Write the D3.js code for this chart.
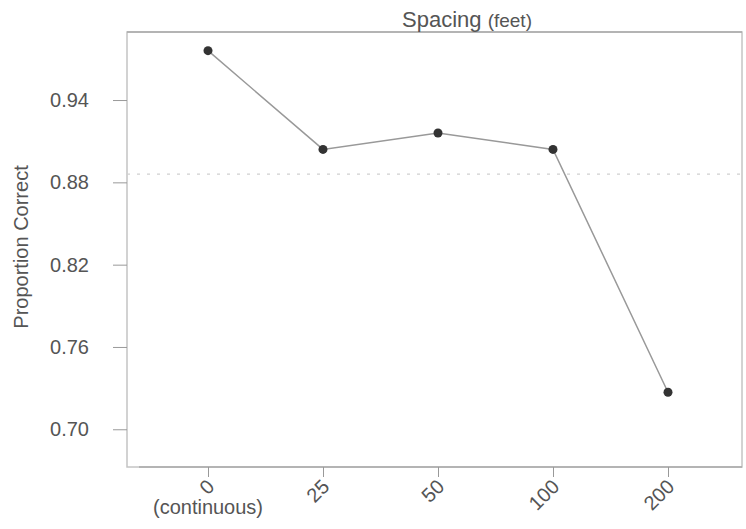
<!DOCTYPE html>
<html lang="en">
<head>
    <meta charset="UTF-8">
    <title>Spacing (feet)</title>
    <script src="https://d3js.org/d3.v7.min.js"></script>
    <style>
        body {
            margin: 0;
            background-color: #fff;
            font-family: "Liberation Sans", Arial, sans-serif;
        }
    </style>
</head>
<body>
<div id="chart"></div>

<script>
    // datos
    const spacings = ["0", "25", "50", "100", "200"];
    const proportions = [0.976, 0.904, 0.916, 0.904, 0.727];
    const yTicks = [0.70, 0.76, 0.82, 0.88, 0.94];
    const referenceLevel = [0.886];

    const width = 746;
    const height = 529;
    const box = { left: 127, top: 32, right: 742, bottom: 467 };

    const svg = d3.select("#chart")
        .append("svg")
        .attr("width", width)
        .attr("height", height);

    const x = d3.scalePoint()
        .domain(spacings)
        .range([208, 668]);

    const y = d3.scaleLinear()
        .domain([0.6725, 0.9896])
        .range([box.bottom, box.top]);

    // marco del panel
    svg.append("rect")
        .attr("x", box.left)
        .attr("y", box.top)
        .attr("width", box.right - box.left)
        .attr("height", box.bottom - box.top)
        .attr("fill", "none")
        .attr("stroke", "#c4c4c4")
        .attr("stroke-width", 1.5);

    svg.append("line")
        .attr("x1", box.left + 12)
        .attr("x2", box.right)
        .attr("y1", box.bottom)
        .attr("y2", box.bottom)
        .attr("stroke", "#aaa")
        .attr("stroke-width", 1.5);

    svg.append("line")
        .attr("x1", box.left)
        .attr("x2", box.right)
        .attr("y1", box.top)
        .attr("y2", box.top)
        .attr("stroke", "#aaa")
        .attr("stroke-width", 1.5);

    // eje y
    const yAxis = svg.append("g")
        .attr("transform", `translate(${box.left},0)`)
        .call(d3.axisLeft(y).tickValues(yTicks).tickFormat(d3.format(".2f")).tickSize(14).tickPadding(24));
    yAxis.select(".domain").remove();
    yAxis.selectAll(".tick line").attr("stroke", "#999");
    yAxis.selectAll(".tick text")
        .attr("fill", "#555")
        .attr("font-size", "20px")
        .attr("font-family", "Liberation Sans, Arial, sans-serif");

    // eje x
    const xAxis = svg.append("g")
        .attr("transform", `translate(0,${box.bottom})`)
        .call(d3.axisBottom(x).tickSize(10));
    xAxis.select(".domain").remove();
    xAxis.selectAll(".tick line").attr("stroke", "#999");
    xAxis.selectAll(".tick text")
        .attr("fill", "#555")
        .attr("font-size", "20px")
        .attr("font-family", "Liberation Sans, Arial, sans-serif")
        .attr("text-anchor", "end")
        .attr("dy", null)
        .attr("y", 0)
        .attr("transform", "translate(7,21) rotate(-45)");

    svg.append("text")
        .attr("x", x("0"))
        .attr("y", 514)
        .attr("text-anchor", "middle")
        .attr("fill", "#555")
        .attr("font-size", "20px")
        .text("(continuous)");

    // título
    const title = svg.append("text")
        .attr("x", 467)
        .attr("y", 27)
        .attr("text-anchor", "middle")
        .attr("fill", "#555")
        .attr("font-size", "22px");
    title.append("tspan").text("Spacing ");
    title.append("tspan").attr("font-size", "19px").text("(feet)");

    svg.append("text")
        .attr("transform", "translate(28,247) rotate(-90)")
        .attr("text-anchor", "middle")
        .attr("fill", "#555")
        .attr("font-size", "20px")
        .text("Proportion Correct");

    // línea de referencia
    svg.selectAll(".ref")
        .data(referenceLevel)
        .enter()
        .append("line")
        .attr("class", "ref")
        .attr("x1", box.left)
        .attr("x2", box.right)
        .attr("y1", d => y(d))
        .attr("y2", d => y(d))
        .attr("stroke", "#d0d0d0")
        .attr("stroke-width", 1.2)
        .attr("stroke-dasharray", "3,7");

    const puntos = spacings.map((s, i) => ({ spacing: s, value: proportions[i] }));

    svg.append("path")
        .datum(puntos)
        .attr("fill", "none")
        .attr("stroke", "#999")
        .attr("stroke-width", 1.5)
        .attr("d", d3.line().x(d => x(d.spacing)).y(d => y(d.value)));

    svg.selectAll("circle")
        .data(puntos)
        .enter()
        .append("circle")
        .attr("cx", d => x(d.spacing))
        .attr("cy", d => y(d.value))
        .attr("r", 4.5)
        .attr("fill", "#333");
</script>
</body>
</html>
